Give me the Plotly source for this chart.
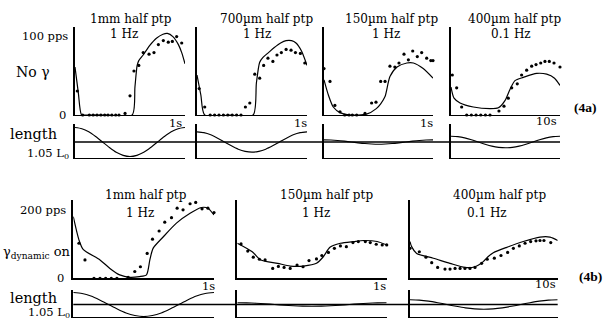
import plotly.graph_objects as go

W, H = 607, 320

# ---------------- DATA ----------------
# Fig 4a : no gamma, rate in pps, time in s
A1_CURVE_T = [0, 0.03, 0.06, 0.1, 0.3, 0.52, 0.545, 0.565, 0.58, 0.62, 0.68, 0.74, 0.8, 0.84, 0.89, 0.94, 0.97, 1.0]
A1_CURVE_R = [60, 28, 0, 0, 0, 0, 35, 62, 68, 75, 87, 96, 101, 102, 98, 88, 78, 64]
A1_DOT_T = [0.021, 0.07, 0.13, 0.165, 0.2, 0.235, 0.27, 0.3, 0.335, 0.37, 0.4, 0.455, 0.5, 0.536, 0.58, 0.62,
            0.673, 0.718, 0.758, 0.803, 0.848, 0.885, 0.924, 0.97]
A1_DOT_R = [30, 0, 0, 0, 0, 0, 0, 0, 0, 0, 0, 2, 24, 55, 62, 78, 76, 78, 88, 93, 91, 92, 98, 90]

A2_CURVE_T = [0, 0.035, 0.07, 0.3, 0.51, 0.54, 0.57, 0.6, 0.65, 0.7, 0.76, 0.81, 0.86, 0.9, 0.95, 1.0]
A2_CURVE_R = [50, 25, 0, 0, 0, 40, 66, 72, 78, 84, 90, 93, 93, 90, 80, 62]
A2_DOT_T = [0.02, 0.07, 0.12, 0.16, 0.2, 0.24, 0.28, 0.32, 0.36, 0.4, 0.44, 0.48, 0.525, 0.57, 0.606,
            0.645, 0.69, 0.727, 0.767, 0.81, 0.855, 0.895, 0.94, 0.98]
A2_DOT_R = [33, 10, 0, 0, 0, 0, 0, 0, 0, 0, 10, 15, 51, 46, 62, 71, 67, 75, 78, 82, 81, 78, 77, 65]

A3_CURVE_T = [0, 0.04, 0.085, 0.147, 0.24, 0.39, 0.48, 0.52, 0.56, 0.605, 0.67, 0.76, 0.82, 0.91, 1.0]
A3_CURVE_R = [44, 25, 10, 3, 0, 1, 8, 14, 23, 48, 60, 65, 65, 58, 46]
A3_DOT_T = [0.0, 0.055, 0.1, 0.147, 0.19, 0.23, 0.26, 0.3, 0.376, 0.437, 0.477, 0.52, 0.56, 0.605, 0.65,
            0.688, 0.734, 0.774, 0.814, 0.856, 0.896, 0.942, 0.98, 1.0]
A3_DOT_R = [58, 42, 12, 4, 0, 0, 0, 0, 2, 15, 16, 42, 42, 61, 60, 65, 76, 69, 80, 73, 78, 71, 68, 68]

A4_CURVE_T = [0, 0.28, 0.83, 2.05, 3.58, 4.34, 4.95, 5.41, 5.87, 6.64, 7.86, 8.78, 9.5, 10]
A4_CURVE_R = [35, 21, 15, 10, 8, 9, 18, 32, 43, 47, 52, 51, 46, 37]
A4_DOT_T = [0.12, 0.52, 0.98, 1.44, 1.87, 2.3, 2.73, 3.16, 3.58, 4.4, 4.86, 5.26, 5.57, 6.08, 6.48, 6.94,
            7.4, 7.8, 8.23, 8.62, 9.02, 9.45, 10.0]
A4_DOT_R = [50, 34, 10, 0, 0, 0, 0, 0, 0, 5, 11, 21, 34, 39, 50, 56, 61, 63, 65, 67, 67, 65, 60]

# Fig 4b : gamma dynamic on
B1_CURVE_T = [0, 0.04, 0.07, 0.19, 0.26, 0.33, 0.4, 0.47, 0.52, 0.544, 0.567, 0.64, 0.733, 0.83, 0.91, 0.957, 1.0]
B1_CURVE_R = [181, 113, 85, 54, 29, 10, 3, 5, 10, 54, 88, 122, 162, 191, 208, 206, 186]
B1_DOT_T = [0.04, 0.083, 0.147, 0.19, 0.23, 0.27, 0.31, 0.39, 0.437, 0.477, 0.525, 0.563, 0.61, 0.65,
            0.698, 0.738, 0.78, 0.83, 0.87, 0.915, 0.957, 1.0]
B1_DOT_R = [103, 54, 0, 0, 0, 0, 0, 3, 20, 34, 73, 115, 139, 165, 178, 206, 201, 219, 223, 204, 206, 193]

B2_CURVE_T = [0, 0.1, 0.157, 0.27, 0.354, 0.443, 0.53, 0.577, 0.62, 0.69, 0.78, 0.846, 0.936, 1.0]
B2_CURVE_R = [103, 78, 54, 44, 36, 36, 44, 64, 91, 103, 108, 111, 108, 98]
B2_DOT_T = [0.025, 0.07, 0.107, 0.148, 0.186, 0.237, 0.275, 0.313, 0.354, 0.4, 0.44, 0.48, 0.53, 0.566,
            0.61, 0.65, 0.69, 0.73, 0.774, 0.81, 0.857, 0.89, 0.93, 0.97, 1.0]
B2_DOT_R = [101, 80, 62, 56, 54, 29, 35, 32, 29, 39, 34, 52, 57, 67, 76, 88, 95, 93, 105, 108, 108, 105,
            100, 98, 98]

B3_CURVE_T = [0, 0.11, 0.45, 1.58, 2.7, 3.72, 4.4, 4.96, 5.3, 5.64, 6.55, 7.67, 8.8, 9.48, 10]
B3_CURVE_R = [108, 93, 73, 59, 44, 32, 34, 49, 64, 75, 91, 108, 121, 121, 111]
B3_DOT_T = [0.0, 0.63, 1.08, 1.47, 1.87, 2.37, 2.71, 3.05, 3.39, 3.72, 4.06, 4.4, 4.85, 5.23, 5.71, 6.16,
            6.61, 7.0, 7.4, 7.79, 8.17, 8.53, 8.8, 9.07, 9.53]
B3_DOT_R = [88, 78, 62, 46, 32, 27, 27, 29, 29, 29, 29, 32, 44, 56, 59, 67, 76, 88, 95, 103, 108, 110,
            111, 111, 105]

# Length stimulus: fraction of cycle vs normalised displacement
LEN_PHASE = [0, 0.0625, 0.125, 0.1875, 0.25, 0.3125, 0.375, 0.4375, 0.5,
             0.5625, 0.625, 0.6875, 0.75, 0.8125, 0.875, 0.9375, 1.0]
LEN_SHAPE = [1, 0.92, 0.71, 0.38, 0, -0.38, -0.71, -0.92, -1,
             -0.92, -0.71, -0.38, 0, 0.38, 0.71, 0.92, 1]

TITLES_A = ["1mm half ptp", "700µm half ptp", "150µm half ptp", "400µm half ptp"]
FREQ_A = ["1 Hz", "1 Hz", "1 Hz", "0.1 Hz"]
AMP_A = [1000, 700, 150, 400]          # µm half peak-to-peak
PERIOD_A = [1, 1, 1, 10]               # s
TICK_A = ["1s", "1s", "1s", "10s"]

TITLES_B = ["1mm half ptp", "150µm half ptp", "400µm half ptp"]
FREQ_B = ["1 Hz", "1 Hz", "0.1 Hz"]
AMP_B = [1000, 150, 400]
PERIOD_B = [1, 1, 10]
TICK_B = ["1s", "1s", "10s"]

A_DATA = [(A1_CURVE_T, A1_CURVE_R, A1_DOT_T, A1_DOT_R),
          (A2_CURVE_T, A2_CURVE_R, A2_DOT_T, A2_DOT_R),
          (A3_CURVE_T, A3_CURVE_R, A3_DOT_T, A3_DOT_R),
          (A4_CURVE_T, A4_CURVE_R, A4_DOT_T, A4_DOT_R)]
B_DATA = [(B1_CURVE_T, B1_CURVE_R, B1_DOT_T, B1_DOT_R),
          (B2_CURVE_T, B2_CURVE_R, B2_DOT_T, B2_DOT_R),
          (B3_CURVE_T, B3_CURVE_R, B3_DOT_T, B3_DOT_R)]

# ---------------- LAYOUT (pixels) ----------------
FONT = "DejaVu Serif"
A_X = [(75, 185), (197, 307), (324, 433), (451, 560)]
B_X = [(73.3, 214), (237.3, 386.7), (410, 557.7)]
A_RATE_Y = (27, 115); A_RATE_MAX = 110
A_LEN_Y = (124, 158); A_LEN_RANGE = [-1103, 1241]
B_RATE_Y = (200, 278.3); B_RATE_MAX = 230
B_LEN_Y = (290, 317); B_LEN_RANGE = [-1042, 1208]

fig = go.Figure()
layout_axes = {}
count = [0]


def add_axes(x0, x1, ytop, ybot, xr, yr):
    count[0] += 1
    n = count[0]
    s = '' if n == 1 else str(n)
    layout_axes['xaxis' + s] = dict(domain=[x0 / W, x1 / W], range=xr, anchor='y' + s, showline=True,
                                    linecolor='black', linewidth=1.2, showgrid=False, zeroline=False,
                                    showticklabels=False, ticks='', fixedrange=True)
    layout_axes['yaxis' + s] = dict(domain=[1 - ybot / H, 1 - ytop / H], range=yr, anchor='x' + s,
                                    showline=True, linecolor='black', linewidth=2, showgrid=False,
                                    zeroline=False, showticklabels=False, ticks='', fixedrange=True)
    return 'x' + s, 'y' + s


def curve(xa, ya, t, v, width=1.2):
    fig.add_trace(go.Scatter(x=t, y=v, mode='lines', xaxis=xa, yaxis=ya, showlegend=False,
                             hoverinfo='skip', line=dict(color='black', width=width, shape='spline',
                                                         smoothing=0.7)))


def dots(xa, ya, t, v):
    fig.add_trace(go.Scatter(x=t, y=v, mode='markers', xaxis=xa, yaxis=ya, showlegend=False,
                             hoverinfo='skip', cliponaxis=False,
                             marker=dict(color='black', size=3.2)))


annotations = []


def txt(s, x, y, size=12, xanchor='center', family=FONT):
    annotations.append(dict(text=s, x=x / W, y=1 - y / H, xref='paper', yref='paper', showarrow=False,
                            xanchor=xanchor, yanchor='middle',
                            font=dict(family=family, size=size, color='black')))


shapes = []
len_axes_a = []
for i, (x0, x1) in enumerate(A_X):
    ct, cr, dt, dr = A_DATA[i]
    xa, ya = add_axes(x0, x1, A_RATE_Y[0], A_RATE_Y[1], [0, PERIOD_A[i]], [0, A_RATE_MAX])
    curve(xa, ya, ct, cr)
    dots(xa, ya, dt, dr)
    xl, yl = add_axes(x0, x1, A_LEN_Y[0], A_LEN_Y[1], [0, PERIOD_A[i]], A_LEN_RANGE)
    curve(xl, yl, [p * PERIOD_A[i] for p in LEN_PHASE], [s * AMP_A[i] for s in LEN_SHAPE], width=1.1)
    len_axes_a.append(yl)

len_axes_b = []
for i, (x0, x1) in enumerate(B_X):
    ct, cr, dt, dr = B_DATA[i]
    xa, ya = add_axes(x0, x1, B_RATE_Y[0], B_RATE_Y[1], [0, PERIOD_B[i]], [0, B_RATE_MAX])
    curve(xa, ya, ct, cr)
    dots(xa, ya, dt, dr)
    xl, yl = add_axes(x0, x1, B_LEN_Y[0], B_LEN_Y[1], [0, PERIOD_B[i]], B_LEN_RANGE)
    curve(xl, yl, [p * PERIOD_B[i] for p in LEN_PHASE], [s * AMP_B[i] for s in LEN_SHAPE], width=1.1)
    len_axes_b.append(yl)

# reference length lines across each row
shapes.append(dict(type='line', xref='paper', yref=len_axes_a[0], x0=A_X[0][0] / W, x1=A_X[-1][1] / W,
                   y0=0, y1=0, line=dict(color='black', width=1.6)))
shapes.append(dict(type='line', xref='paper', yref=len_axes_b[0], x0=B_X[0][0] / W, x1=B_X[-1][1] / W,
                   y0=0, y1=0, line=dict(color='black', width=1.4)))

# ---- texts, row a ----
title_pos_a = [(131, 131, 124), (266, 266, 257), (391, 391, 386), (514, 514, 511)]
for i in range(4):
    txt(TITLES_A[i], title_pos_a[i][0], 19)
    txt(FREQ_A[i], title_pos_a[i][2], 34)
tick_pos_a = [(184, 123), (309, 123), (435, 123), (559, 121)]
for i in range(4):
    txt(TICK_A[i], tick_pos_a[i][0], tick_pos_a[i][1], size=11.5, xanchor='right')
txt("100 pps", 70, 36, size=11.5, xanchor='right')
txt("No γ", 33, 72, size=14)
txt("0", 68, 115, size=11.5, xanchor='right')
txt("length", 8, 134, size=14.5, xanchor='left')
txt("1.05 L<sub>0</sub>", 71, 153, size=11.5, xanchor='right')
txt("<b>(4a)</b>", 585, 107, size=13.5, family="Liberation Serif")

# ---- texts, row b ----
title_pos_b = [(146, 140), (326, 316), (499, 487)]
for i in range(3):
    txt(TITLES_B[i], title_pos_b[i][0], 195)
    txt(FREQ_B[i], title_pos_b[i][1], 213)
tick_pos_b = [(217, 286), (388, 286), (558, 284)]
for i in range(3):
    txt(TICK_B[i], tick_pos_b[i][0], tick_pos_b[i][1], size=11.5, xanchor='right')
txt("200 pps", 68, 210, size=11.5, xanchor='right')
txt("γ<sub>dynamic</sub> on", 73, 252, size=13, xanchor='right')
txt("0", 66, 278, size=11.5, xanchor='right')
txt("length", 8, 298, size=14.5, xanchor='left')
txt("1.05 L<sub>0</sub>", 72, 312, size=11.5, xanchor='right')
txt("<b>(4b)</b>", 590, 276, size=13.5, family="Liberation Serif")

fig.update_layout(width=W, height=H, margin=dict(l=0, r=0, t=0, b=0), paper_bgcolor='white',
                  plot_bgcolor='white', showlegend=False, annotations=annotations, shapes=shapes,
                  **layout_axes)

fig.write_html("out.html", config={'displayModeBar': False, 'staticPlot': True},
               post_script="document.body.style.margin='0px';document.body.style.overflow='hidden';")
